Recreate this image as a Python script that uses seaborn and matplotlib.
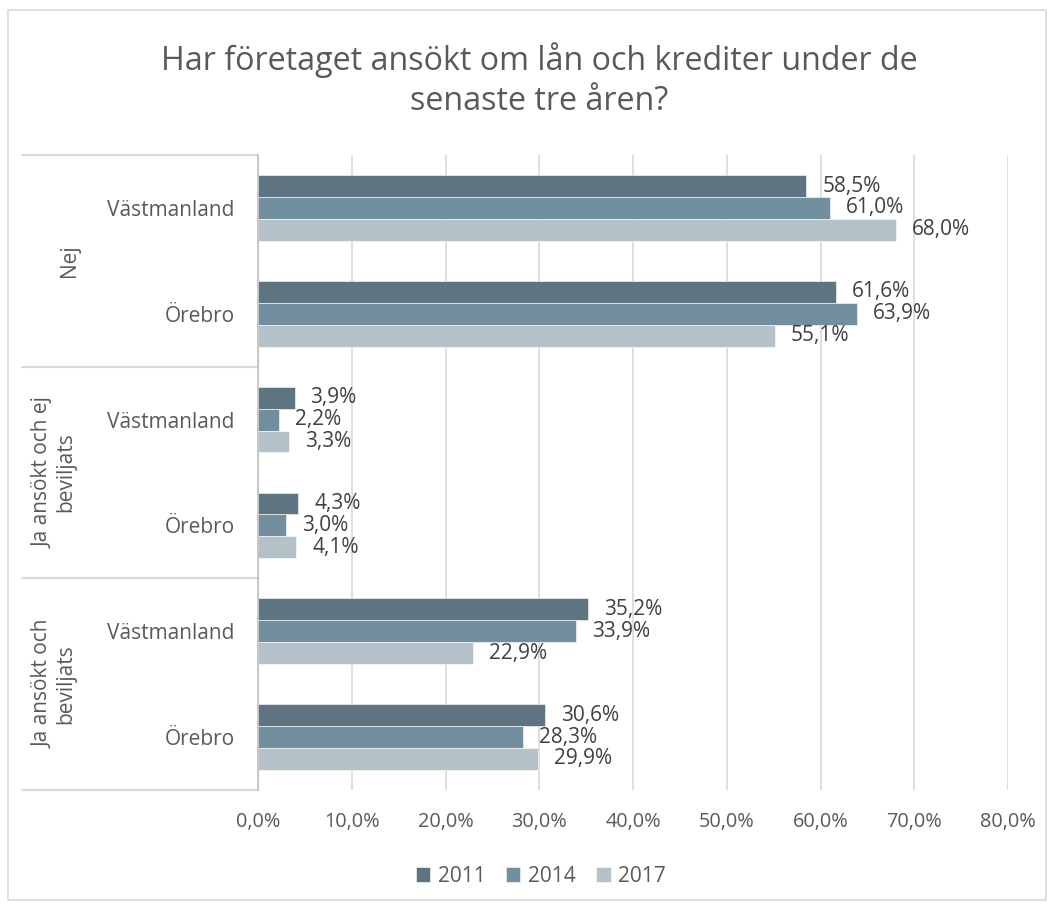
import matplotlib
matplotlib.use("Agg")
import matplotlib.pyplot as plt
import seaborn as sns
import pandas as pd
from matplotlib.patches import Rectangle
from matplotlib.lines import Line2D

# ---- data ----
groups = ["Nej", "Ja ansökt och ej\nbeviljats", "Ja ansökt och\nbeviljats"]
regions = ["Västmanland", "Örebro"]
years = ["2011", "2014", "2017"]
v2011 = [58.5, 61.6, 3.9, 4.3, 35.2, 30.6]
v2014 = [61.0, 63.9, 2.2, 3.0, 33.9, 28.3]
v2017 = [68.0, 55.1, 3.3, 4.1, 22.9, 29.9]
x_ticks = [0, 10, 20, 30, 40, 50, 60, 70, 80]
title = "Har företaget ansökt om lån och krediter under de\nsenaste tre åren?"

row_keys = [f"{g}|{r}" for g in groups for r in regions]
row_labels = [r for g in groups for r in regions]
rows = []
for yr, vals in zip(years, [v2011, v2014, v2017]):
    for k, v in zip(row_keys, vals):
        rows.append({"row": k, "År": yr, "Andel": v})
df = pd.DataFrame(rows)

colors = ["#5E7480", "#728FA0", "#B4C1C8"]
txt = "#595959"
lbl = "#404040"
grid = "#D9D9D9"
fs = 15

sns.set_theme(style="white")
plt.rcParams["font.family"] = ["Open Sans", "DejaVu Sans"]

fig = plt.figure(figsize=(10.54, 9.08), dpi=100)
ax = fig.add_axes([258/1054, 1-790/908, 750/1054, 635/908])

sns.barplot(data=df, x="Andel", y="row", hue="År", order=row_keys,
            hue_order=years, palette=colors, width=0.62, orient="h",
            ax=ax, saturation=1, legend=True, edgecolor="white",
            linewidth=0.4)

ax.set_xlim(0, 80)
ax.set_xticks(x_ticks)
ax.set_xticklabels([f"{t:.1f}%".replace(".", ",") for t in x_ticks],
                   color=txt, fontsize=14.3)
ax.tick_params(axis="x", length=0, pad=16)
ax.set_yticks(range(len(row_keys)))
ax.set_yticklabels(row_labels, color=txt, fontsize=fs)
ax.tick_params(axis="y", length=0, pad=17)
ax.set_xlabel("")
ax.set_ylabel("")
ax.xaxis.grid(True, color=grid, linewidth=1.2)
ax.set_axisbelow(True)
for s in ["top", "right", "bottom"]:
    ax.spines[s].set_visible(False)
ax.spines["left"].set_color("#BFBFBF")
ax.spines["left"].set_linewidth(1.2)

for cont in ax.containers:
    labels = [f"{b.get_width():.1f}%".replace(".", ",") for b in cont]
    ax.bar_label(cont, labels=labels, padding=11.5, color=lbl, fontsize=fs)

# group dividers and labels
px = 80 / 750
for i in range(4):
    yv = i * 2 - 0.5
    ax.add_line(Line2D([-(258-22)*px, 0], [yv, yv], color=grid,
                       linewidth=1.5, clip_on=False))
group_x = [70, 54, 54]
for i, g in enumerate(groups):
    ax.text(-(258-group_x[i])*px, i*2 + 0.5, g, rotation=90, ha="center",
            va="center", color=txt, fontsize=fs, linespacing=1.1,
            multialignment="center")

leg = ax.legend(loc="center", bbox_to_anchor=(541/1054, 1-876/908),
                bbox_transform=fig.transFigure, ncol=3, frameon=False,
                fontsize=fs, handlelength=0.7, handleheight=0.7,
                handletextpad=0.38, columnspacing=0.95)
for t in leg.get_texts():
    t.set_color(txt)

fig.text(539/1054, 1-80/908, title, ha="center", va="center",
         fontsize=23.2, color=txt, linespacing=1.3)

fig.patches.append(Rectangle((8/1054, 1-900/908), 1038/1054, 890/908,
                             transform=fig.transFigure, fill=False,
                             edgecolor=grid, linewidth=1.2))

fig.savefig("out.png", dpi=100)
